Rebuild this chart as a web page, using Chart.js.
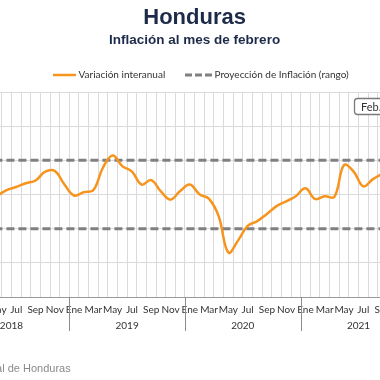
<!DOCTYPE html>
<html><head><meta charset="utf-8">
<script src="https://cdn.jsdelivr.net/npm/chart.js@4/dist/chart.umd.min.js"></script>
<style>
html,body{margin:0;padding:0;width:380px;height:380px;overflow:hidden;background:#fff;}
#wrap{position:absolute;left:-100px;top:0;width:560px;height:380px;}
</style></head><body>
<div id="wrap"><canvas id="c" width="560" height="380"></canvas></div>
<script>
// ---- data ----
const months = ['Ene','Feb','Mar','Abr','May','Jun','Jul','Ago','Sep','Oct','Nov','Dic'];
const years = ['2018','2019','2020','2021','2022'];
const inflation2018 = [null, null, null, null, 3.95, 4.13, 4.22, 4.33, 4.41, 4.67, 4.69, 4.29];
const inflation2019 = [3.97, 4.07, 4.13, 4.79, 5.14, 4.83, 4.67, 4.29, 4.42, 4.09, 3.85, 4.10];
const inflation2020 = [4.29, 4.01, 3.87, 3.36, 2.30, 2.65, 3.08, 3.22, 3.43, 3.66, 3.80, 3.95];
const inflation2021 = [4.18, 3.87, 3.95, 3.93, 4.86, 4.67, 4.24, 4.45, 4.61, null, null, null];
const inflation2022 = [null, null];
const rangeHigh = 5;
const rangeLow = 3;
const yTicks = [1, 2, 3, 4, 5, 6, 7];
const seriesLabel = 'Variación interanual';
const rangeLabel = 'Proyección de Inflación (rango)';
const sourceText = 'Fuente: Banco Central de Honduras';
const badgeText = 'Feb. 2022';

const inflation = [].concat(inflation2018, inflation2019, inflation2020, inflation2021, inflation2022);
const categories = [];
years.forEach((y, k) => {
  const n = (k === years.length - 1) ? inflation2022.length : 12;
  for (let m = 0; m < n; m++) categories.push(months[m] + ' ' + y);
});

// ---- styles ----
const OFFSET = 100; // canvas is shifted left by this many px
const ORANGE = '#f7941d';
const DASH_GRAY = '#808080';
const GRID = '#dadada';
const TEXT = '#333333';
const AXIS_FONT = {family: 'Lato', size: 10};

const yearsPlugin = {
  id: 'years',
  afterDraw(chart) {
    const x = chart.scales.x, ctx = chart.ctx, area = chart.chartArea;
    const half = (x.getPixelForValue(1) - x.getPixelForValue(0)) / 2;
    ctx.save();
    years.forEach(yr => {
      const first = categories.indexOf('Ene ' + yr);
      let last = first;
      while (last + 1 < categories.length && categories[last + 1].endsWith(yr)) last++;
      const left = x.getPixelForValue(first) - half;
      const right = x.getPixelForValue(last) + half;
      ctx.strokeStyle = '#8c8c8c';
      ctx.lineWidth = 1;
      ctx.beginPath();
      ctx.moveTo(Math.round(left) + 0.5, area.bottom);
      ctx.lineTo(Math.round(left) + 0.5, area.bottom + 34);
      ctx.stroke();
      ctx.fillStyle = TEXT;
      ctx.font = '10px Lato';
      ctx.textAlign = 'center';
      ctx.textBaseline = 'middle';
      ctx.fillText(yr, (left + right) / 2, area.bottom + 28.5);
    });
    ctx.restore();
  }
};

const legendPlugin = {
  id: 'customLegend',
  afterDraw(chart) {
    const ctx = chart.ctx;
    const y = 75;
    ctx.save();
    ctx.lineWidth = 2.5;
    ctx.strokeStyle = ORANGE;
    ctx.beginPath(); ctx.moveTo(OFFSET + 53, y); ctx.lineTo(OFFSET + 76, y); ctx.stroke();
    ctx.strokeStyle = DASH_GRAY;
    ctx.lineWidth = 3;
    ctx.setLineDash([7, 3]);
    ctx.beginPath(); ctx.moveTo(OFFSET + 185, y); ctx.lineTo(OFFSET + 213, y); ctx.stroke();
    ctx.setLineDash([]);
    ctx.fillStyle = TEXT;
    ctx.font = '10px Lato';
    ctx.textAlign = 'left';
    ctx.textBaseline = 'middle';
    ctx.fillText(seriesLabel, OFFSET + 78.5, y);
    ctx.fillText(rangeLabel, OFFSET + 214.5, y);
    // badge
    const bx = OFFSET + 354.5, by = 98.5, bw = 90, bh = 16;
    ctx.beginPath();
    ctx.roundRect(bx, by, bw, bh, 3);
    ctx.fillStyle = '#ffffff';
    ctx.fill();
    ctx.lineWidth = 1.3;
    ctx.strokeStyle = '#7a7a7a';
    ctx.stroke();
    ctx.fillStyle = TEXT;
    ctx.font = '11px Lato';
    ctx.fillText(badgeText, bx + 6.5, by + bh / 2 + 0.5);
    // source
    ctx.fillStyle = '#8a8a8a';
    ctx.font = '11px "Liberation Sans"';
    ctx.textAlign = 'right';
    ctx.textBaseline = 'alphabetic';
    ctx.fillText(sourceText, OFFSET + 70.7, 372);
    ctx.restore();
  }
};

new Chart(document.getElementById('c'), {
  type: 'line',
  data: {
    labels: categories,
    datasets: [
      {label: seriesLabel, data: inflation, borderColor: ORANGE, borderWidth: 2.5,
       pointRadius: 0, tension: 0.4, fill: false},
      {label: rangeLabel, data: [{x: categories[0], y: rangeHigh}, {x: categories[categories.length - 1], y: rangeHigh}],
       borderColor: DASH_GRAY, borderWidth: 3, borderDash: [8, 4], pointRadius: 0, fill: false},
      {label: rangeLabel, data: [{x: categories[0], y: rangeLow}, {x: categories[categories.length - 1], y: rangeLow}],
       borderColor: DASH_GRAY, borderWidth: 3, borderDash: [8, 4], pointRadius: 0, fill: false}
    ]
  },
  options: {
    responsive: false,
    animation: false,
    events: [],
    layout: {padding: {left: 53.6, right: 24.4, top: 0, bottom: 57}},
    plugins: {
      legend: {display: false},
      tooltip: {enabled: false},
      title: {display: true, text: 'Honduras', color: '#1d2b4a',
        font: {family: 'Liberation Sans', size: 22, weight: 'bold'}, padding: {top: 5, bottom: 0}},
      subtitle: {display: true, text: 'Inflación al mes de febrero', color: '#1d2b4a',
        font: {family: 'Liberation Sans', size: 13.5, weight: 'bold'}, padding: {top: 0.5, bottom: 43.9}}
    },
    scales: {
      x: {
        type: 'category', offset: true,
        grid: {offset: true, color: GRID, drawTicks: false},
        border: {color: '#999999', width: 1},
        ticks: {autoSkip: false, maxRotation: 0, minRotation: 0, padding: 7, color: TEXT, font: AXIS_FONT,
          callback: (v, i) => (i % 2 === 0 ? categories[i].split(' ')[0] : '')}
      },
      y: {
        min: yTicks[0], max: yTicks[yTicks.length - 1],
        afterBuildTicks: s => { s.ticks = yTicks.map(v => ({value: v})); },
        ticks: {display: false},
        grid: {color: GRID, drawTicks: false},
        border: {display: false}
      }
    }
  },
  plugins: [yearsPlugin, legendPlugin]
});
</script>
</body></html>
